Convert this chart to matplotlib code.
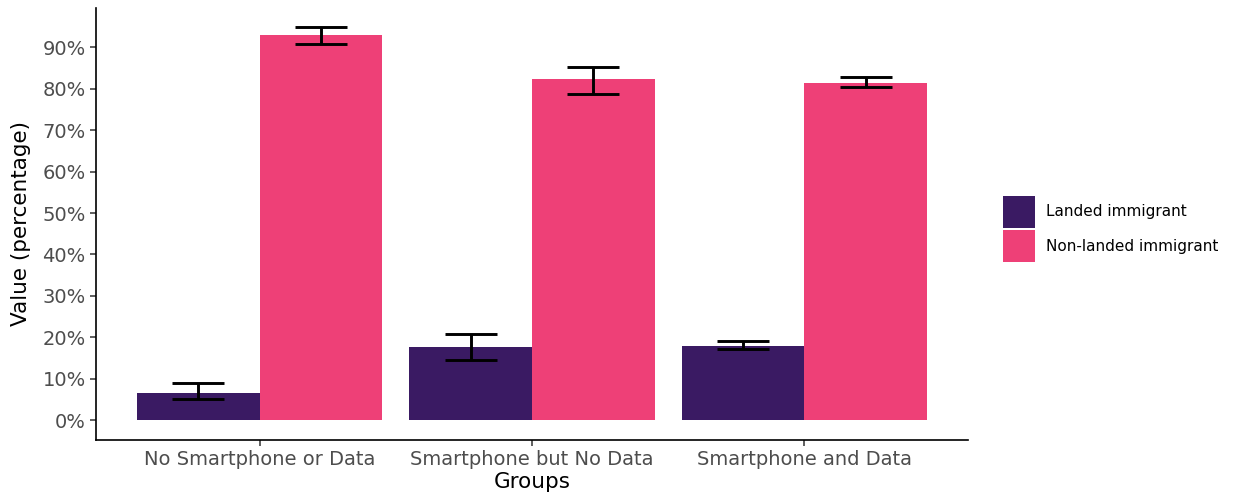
import matplotlib.pyplot as plt
import numpy as np
from matplotlib.patches import Patch
from matplotlib.ticker import PercentFormatter

# Data
groups = ["No Smartphone or Data", "Smartphone but No Data", "Smartphone and Data"]
landed = [0.065, 0.176, 0.179]
landed_low = [0.050, 0.145, 0.171]
landed_high = [0.090, 0.209, 0.192]
nonlanded = [0.930, 0.823, 0.815]
nonlanded_low = [0.908, 0.787, 0.805]
nonlanded_high = [0.949, 0.853, 0.829]

series_names = ["Landed immigrant", "Non-landed immigrant"]
colors = ["#3A1A63", "#EE4077"]

plt.rcParams["font.family"] = "DejaVu Sans"

fig = plt.figure(figsize=(12.33, 5), dpi=100)
ax = fig.add_axes([0.0779, 0.12, 0.707, 0.864])

x = np.arange(len(groups))
w = 0.45

for vals, lo, hi, off, col in [
    (landed, landed_low, landed_high, -w / 2, colors[0]),
    (nonlanded, nonlanded_low, nonlanded_high, w / 2, colors[1]),
]:
    vals = np.array(vals)
    err = [vals - np.array(lo), np.array(hi) - vals]
    ax.bar(x + off, vals, width=w, color=col, zorder=2)
    ax.errorbar(x + off, vals, yerr=err, fmt="none", ecolor="black",
                elinewidth=2.1, capsize=19, capthick=2.1, zorder=3)

ax.set_xlim(-0.6, len(groups) - 0.4)
ax.set_ylim(-0.048, 0.995)
ax.set_xticks(x)
ax.set_xticklabels(groups)
ax.set_yticks(np.arange(0, 1.0, 0.1))
ax.yaxis.set_major_formatter(PercentFormatter(1.0, decimals=0))

for side in ["top", "right"]:
    ax.spines[side].set_visible(False)
for side in ["left", "bottom"]:
    ax.spines[side].set_linewidth(1.2)
    ax.spines[side].set_color("black")

ax.tick_params(axis="both", labelsize=14, labelcolor="#4D4D4D",
               color="#333333", length=4, width=1.1)
ax.set_xlabel("Groups", fontsize=15.5, labelpad=2)
ax.set_ylabel("Value (percentage)", fontsize=15.5, labelpad=8)

handles = [Patch(facecolor=c, edgecolor="none") for c in colors]
fig.legend(handles, series_names, loc="center left",
           bbox_to_anchor=(0.8135, 0.542), frameon=False, fontsize=11,
           handlelength=2.1, handleheight=2.9, handletextpad=0.7,
           labelspacing=0.12, borderaxespad=0, borderpad=0)

fig.savefig("out.png", dpi=100)
